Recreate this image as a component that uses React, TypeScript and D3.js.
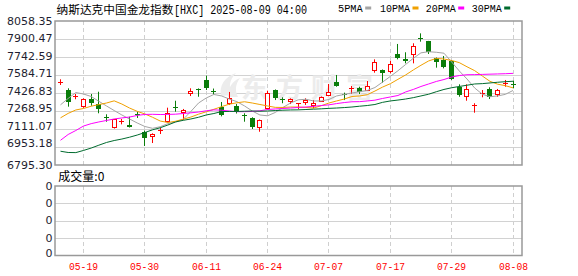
import React from 'react';
import * as d3 from 'd3';

const dates = [
  '05-14','05-15','05-16','05-19','05-20','05-21','05-22','05-23','05-27','05-28',
  '05-29','05-30','06-02','06-03','06-04','06-05','06-06','06-09','06-10','06-11',
  '06-12','06-13','06-16','06-17','06-18','06-20','06-23','06-24','06-25','06-26',
  '06-27','06-30','07-01','07-02','07-03','07-07','07-08','07-09','07-10','07-11',
  '07-14','07-15','07-16','07-17','07-18','07-21','07-22','07-23','07-24','07-25',
  '07-28','07-29','07-30','07-31','08-01','08-04','08-05','08-06','08-07','08-08',
];

const tickDates = ['05-19','05-30','06-11','06-24','07-07','07-17','07-29','08-08'];
const priceTicks = ['8058.35','7900.47','7742.59','7584.71','7426.83','7268.95','7111.07','6953.18','6795.30'];
const volumeTicks = ['0','0','0','0','0'];

const open = [
  7519,7453,7396,7301,7374,7330,7216,7117,7172,7146,
  7243,7087,7041,7098,7170,7308,7251,7418,7465,7541,
  7444,7304,7330,7310,7234,7205,7117,7284,7453,7370,
  7345,7332,7342,7313,7350,7400,7526,7422,7464,7468,
  7447,7622,7629,7608,7769,7722,7760,7909,7883,7736,
  7716,7708,7482,7394,7317,7420,7459,7409,7509,7509,
];
const high = [
  7547,7468,7418,7380,7418,7438,7240,7199,7199,7219,
  7263,7098,7073,7122,7298,7359,7287,7468,7467,7579,
  7466,7348,7436,7330,7249,7214,7194,7447,7458,7389,
  7380,7338,7380,7365,7396,7506,7585,7430,7488,7482,
  7532,7722,7633,7710,7857,7784,7863,7950,7884,7738,
  7751,7716,7503,7503,7337,7453,7477,7462,7541,7535,
];
const low = [
  7497,7307,7372,7297,7315,7249,7175,7115,7152,7124,
  7208,6962,6988,7067,7168,7263,7190,7400,7394,7453,
  7415,7222,7322,7247,7175,7111,7087,7282,7365,7337,
  7330,7284,7322,7293,7348,7398,7482,7365,7418,7418,
  7444,7605,7517,7600,7722,7687,7687,7877,7769,7649,
  7643,7541,7394,7359,7254,7389,7374,7394,7482,7468,
];
const close = [
  7523,7351,7400,7374,7337,7284,7208,7196,7177,7126,
  7234,7030,7063,7104,7249,7300,7282,7446,7458,7468,
  7436,7234,7383,7260,7225,7126,7190,7424,7380,7363,
  7374,7336,7365,7339,7389,7438,7488,7414,7468,7438,
  7488,7701,7600,7681,7736,7710,7839,7903,7784,7701,
  7657,7550,7409,7462,7322,7425,7389,7453,7515,7503,
];

const ma5 = [
  7323,7379,7431,7418,7396,7354,7313,7273,7234,7199,
  7164,7133,7117,7131,7158,7173,7196,7265,7339,7383,
  7414,7401,7374,7351,7313,7269,7234,7227,7256,7300,
  7339,7367,7372,7357,7357,7370,7401,7414,7427,7438,
  7449,7475,7523,7572,7622,7677,7731,7779,7789,7784,
  7776,7699,7620,7550,7471,7416,7394,7401,7415,7449,
];
const ma10 = [
  7209,7248,7278,7291,7311,7325,7339,7358,7330,7295,
  7266,7243,7214,7181,7168,7179,7197,7216,7241,7262,
  7284,7307,7329,7341,7350,7339,7326,7313,7301,7300,
  7304,7304,7300,7295,7315,7339,7357,7374,7396,7401,
  7412,7444,7479,7508,7547,7585,7629,7670,7708,7730,
  7725,7712,7693,7657,7623,7576,7529,7504,7491,7472,
];
const ma20 = [
  7012,7063,7098,7137,7158,7173,7186,7199,7208,7216,
  7230,7239,7240,7238,7239,7241,7247,7253,7260,7271,
  7279,7276,7269,7263,7263,7265,7271,7282,7287,7291,
  7295,7300,7304,7310,7317,7323,7334,7343,7350,7351,
  7357,7364,7379,7392,7405,7436,7458,7484,7506,7528,
  7545,7567,7580,7587,7588,7590,7592,7594,7596,7599,
];
const ma30 = [
  6916,6905,6904,6923,6944,6969,6993,7010,7023,7039,
  7058,7080,7104,7122,7146,7173,7187,7199,7214,7234,
  7247,7264,7265,7265,7267,7269,7267,7269,7273,7276,
  7278,7279,7282,7285,7288,7292,7295,7299,7304,7311,
  7317,7326,7345,7357,7365,7374,7386,7401,7416,7438,
  7458,7473,7484,7495,7506,7509,7515,7521,7526,7530,
];

const maSeries = [
  { name: '5PMA', values: ma5, color: '#a4a4a4' },
  { name: '10PMA', values: ma10, color: '#f0a000' },
  { name: '20PMA', values: ma20, color: '#ff00ff' },
  { name: '30PMA', values: ma30, color: '#006b2e' },
];

const RED = '#ff0000';
const GREEN = '#0a7d0a';
const CJK = '"Noto Sans CJK SC", sans-serif';
const MONO = '"Liberation Mono", monospace';
const NUM = '"DejaVu Sans", sans-serif';

export default function App() {
  const W = 578, H = 276;
  const L = 55, R = 522, T = 21, B = 165;
  const VT = 186, VB = 255.5;

  const x = d3.scalePoint<string>().domain(dates).range([60.5, 513]);
  const y = d3.scaleLinear().domain([6795.3, 8058.35]).range([B, T]);
  const vy = d3.scaleLinear().domain([0, volumeTicks.length - 1]).range([VB, VT]);

  const lineGen = d3
    .line<number>()
    .x((_, i) => x(dates[i]) as number)
    .y((v) => y(v));

  const legendX = [338, 380, 425.7, 471.7];
  const legendW = [24.7, 30, 30, 30];

  return (
    <svg
      width={W}
      height={H}
      style={{ position: 'absolute', left: 0, top: 0, background: '#fff' }}
      xmlns="http://www.w3.org/2000/svg"
    >
      <rect x={0} y={0} width={W} height={H} fill="#fff" />
      {/* title */}
      <text x={56.5} y={14} fontFamily={CJK} fontSize={11.7} fill="#000">纳斯达克中国金龙指数</text>
      <text x={174} y={13.5} fontFamily={MONO} fontSize={12} fill="#000" textLength={133} lengthAdjust="spacingAndGlyphs">
        [HXC] 2025-08-09 04:00
      </text>
      {/* legend */}
      {maSeries.map((s, k) => (
        <g key={s.name}>
          <text x={legendX[k]} y={12.3} fontFamily={MONO} fontSize={11} fill="#000" textLength={legendW[k]} lengthAdjust="spacingAndGlyphs">
            {s.name}
          </text>
          <rect x={legendX[k] + legendW[k] + 2.5} y={6.5} width={6} height={3} fill={s.color} />
        </g>
      ))}

      {/* price grid */}
      {priceTicks.slice(1, -1).map((t) => {
        const yy = Math.round(y(+t)) + 0.5;
        return <line key={'g' + t} x1={L} x2={R} y1={yy} y2={yy} stroke="#d2d2d2" strokeWidth={1} />;
      })}
      {tickDates.map((d) => {
        const xx = Math.floor(x(d) as number) + 0.5;
        return (
          <g key={'v' + d}>
            <line x1={xx} x2={xx} y1={T} y2={B} stroke="#cfcfcf" strokeDasharray="4 3" />
            <line x1={xx} x2={xx} y1={VT} y2={VB} stroke="#cfcfcf" strokeDasharray="4 3" />
          </g>
        );
      })}

      {/* watermark */}
      <g opacity={1}>
        <path
          d="M221,96 C219,86 224,77 236,73 C229,80 228,88 233,95 Z M228,97 C228,88 232,81 240,78 C235,85 235,91 238,97 Z"
          fill="#ececec"
        />
        <text x={241} y={98} fontFamily={CJK} fontSize={27} fontWeight={700} fill="#ececec" letterSpacing={8}>
          东方财富
        </text>
      </g>

      {/* candles */}
      {dates.map((d, i) => {
        const cx = Math.floor(x(d) as number) + 0.5;
        const o = open[i], c = close[i];
        const up = c >= o;
        const yTop = Math.round(y(Math.max(o, c)));
        const yBot = Math.round(y(Math.min(o, c)));
        const h = Math.max(yBot - yTop, 1);
        const yh = y(high[i]);
        const yl = y(low[i]);
        if (up) {
          return (
            <g key={d}>
              <line x1={cx} x2={cx} y1={yh} y2={yTop + 0.5} stroke={RED} />
              <line x1={cx} x2={cx} y1={yTop + h - 0.5} y2={yl} stroke={RED} />
              {h > 1 ? (
                <rect x={cx - 2} y={yTop + 0.5} width={4} height={h - 1} fill="#fff" stroke={RED} />
              ) : (
                <line x1={cx - 2.5} x2={cx + 2.5} y1={yTop + 0.5} y2={yTop + 0.5} stroke={RED} />
              )}
            </g>
          );
        }
        return (
          <g key={d}>
            <line x1={cx} x2={cx} y1={yh} y2={yl} stroke={GREEN} />
            <rect x={cx - 2.5} y={yTop} width={5} height={h} fill={GREEN} />
          </g>
        );
      })}

      {/* moving averages */}
      {maSeries.map((s) => (
        <path key={s.name} d={lineGen(s.values) as string} fill="none" stroke={s.color} strokeWidth={1} />
      ))}

      {/* price frame */}
      <rect x={L} y={T} width={R - L} height={B - T} fill="none" stroke="#999" strokeWidth={1.5} />

      {/* price labels */}
      {priceTicks.map((t, k) => {
        const last = k === priceTicks.length - 1;
        const yy = y(+t) - (k > 0 && !last ? k * 0.45 : 0) + (k === 0 ? 0.7 : 0);
        return (
          <text key={'p' + t} x={52.5} y={yy} textAnchor="end" dominantBaseline="central" fontFamily={NUM} fontSize={11} fill="#1e1e30">
            {t}
          </text>
        );
      })}

      {/* volume panel */}
      <text x={58.3} y={181} fontFamily={CJK} fontSize={12} fill="#000">成交量:0</text>
      {volumeTicks.slice(1, -1).map((_, k) => {
        const yy = Math.round(vy(k + 1)) + 0.5;
        return <line key={'vg' + k} x1={L} x2={R} y1={yy} y2={yy} stroke="#d2d2d2" />;
      })}
      <rect x={L} y={VT} width={R - L} height={VB - VT} fill="none" stroke="#999" strokeWidth={1.5} />
      {volumeTicks.map((t, k) => (
        <text key={'vt' + k} x={52.5} y={vy(k) - (k === 0 ? 2.5 : 0)} textAnchor="end" dominantBaseline="central" fontFamily={NUM} fontSize={11} fill="#1e1e30">
          {t}
        </text>
      ))}

      {/* date labels */}
      {tickDates.map((d) => (
        <text key={'xl' + d} x={Math.floor(x(d) as number) + 0.5} y={270} textAnchor="middle" fontFamily={MONO} fontSize={11} fill={RED} textLength={29} lengthAdjust="spacingAndGlyphs">
          {d}
        </text>
      ))}
    </svg>
  );
}
